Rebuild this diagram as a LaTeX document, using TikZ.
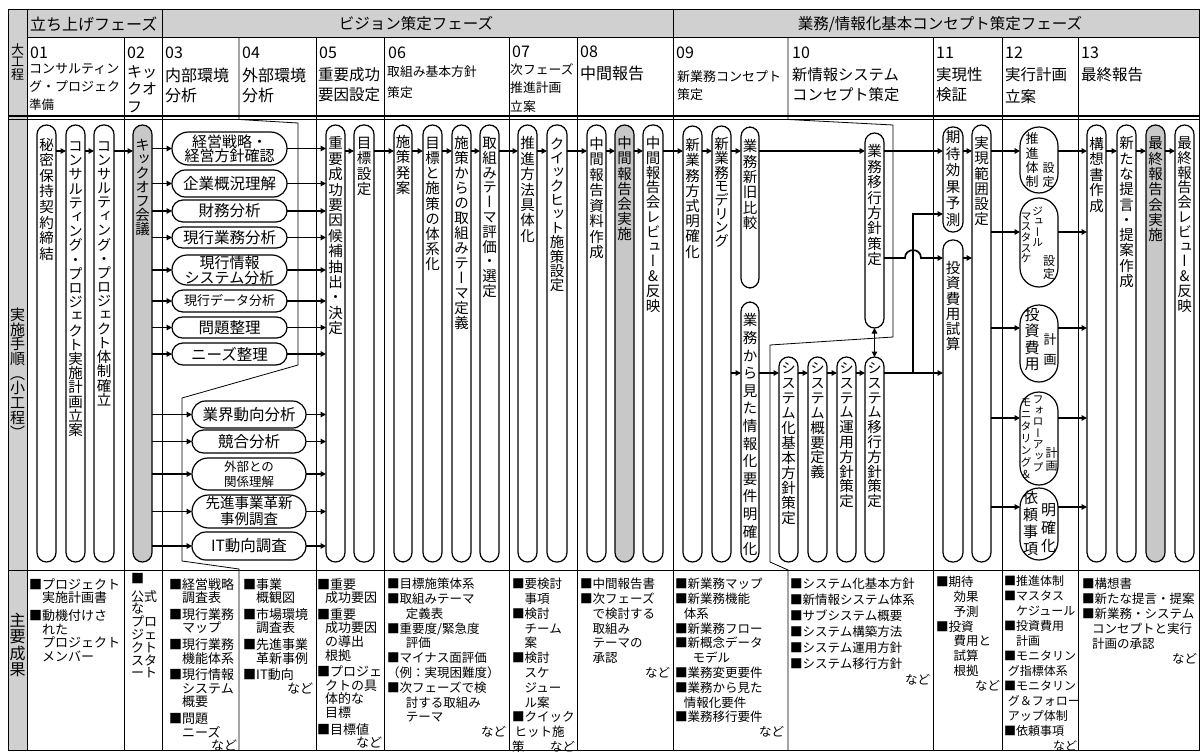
\documentclass[tikz,border=0pt]{standalone}
\usepackage{fontspec}
\setmainfont{Noto Sans CJK JP}
\newfontfamily\vjp[RawFeature=+vert]{Noto Sans CJK JP}
\usetikzlibrary{arrows.meta}
\definecolor{hdrgray}{RGB}{208,208,208}
\definecolor{pillgray}{RGB}{200,200,200}
\newdimen\vtp
\let\vtend\relax
\def\vtx#1{\ifx\vtend#1\else\vchr{#1}\expandafter\vtx\fi}
\def\vchr#1{\hbox to 1em{\hss\vrule height .86\vtp depth .14\vtp width 0pt\relax#1\hss}}
\newcommand\vtext[3]{\vbox{\offinterlineskip\vjp\fontsize{#1}{#2}\selectfont\vtp=#2\relax\vtx#3\vtend}}
\tikzset{
  gridline/.style={line width=0.8pt},
  pillbox/.style={draw, line width=1.2pt, rounded corners=#1, inner sep=0pt, outer sep=0pt, fill=white},
  conn/.style={line width=1.7pt, -{Triangle[length=5.5pt,width=5.5pt]}},
  dconn/.style={line width=1.7pt, {Triangle[length=5.5pt,width=5.5pt]}-{Triangle[length=5.5pt,width=5.5pt]}},
}
% vertical pill: name fill x1 x2 y1 y2 offset pitch text
\newcommand\VP[9]{%
  \pgfmathsetmacro\pw{#4-#3}\pgfmathsetmacro\ph{#6-#5}%
  \node[pillbox=9.5pt, fill=#2, minimum width=\pw pt, minimum height=\ph pt] (#1) at ({(#3+#4)/2},{(#5+#6)/2}) {};
  \node[inner sep=0pt, anchor=north] (#1t) at ([yshift=-#7pt]#1.north) {\vtext{14.5pt}{#8pt}{#9}};
}
% horizontal pill: name x1 x2 y1 y2 size bskip text
\newcommand\HP[8]{%
  \pgfmathsetmacro\pw{#3-#2}\pgfmathsetmacro\ph{#5-#4}\pgfmathsetmacro\pr{(#5-#4)/2}%
  \node[pillbox=\pr pt, minimum width=\pw pt, minimum height=\ph pt, align=center, font=\fontsize{#6pt}{#7pt}\selectfont] (#1) at ({(#2+#3)/2},{(#4+#5)/2}) {#8};
}
% wide pill in column 12
\newcommand\WP[3]{%
  \pgfmathsetmacro\ph{#3-#2}%
  \node[pillbox=19pt, minimum width=38pt, minimum height=\ph pt] (#1) at (1039,{(#2+#3)/2}) {};
}
\newcommand\VT[6]{\node[inner sep=0pt, anchor=north] (#1) at (#2,#3) {\vtext{#4pt}{#5pt}{#6}};}
\newcommand\HT[5]{\node[inner sep=0pt, anchor=west, font=\fontsize{#4pt}{#4pt}\selectfont] (#1) at (#2,#3) {#5};}
\newcommand\BT[7]{\node[inner sep=0pt, anchor=north west, text width=#4pt, align=left, font=\fontsize{#5pt}{#6pt}\selectfont] (#1) at (#2,#3) {#7};}
\begin{document}
\begin{tikzpicture}[x=1pt,y=-1pt]
\useasboundingbox (0,0) rectangle (1200,755);
% backgrounds
\fill[hdrgray] (8,9) rectangle (1199,37);
\fill[hdrgray] (8,9) rectangle (27,750);
% rules
\draw[gridline] (8,9) rectangle (1199,750);
\draw[gridline] (27,9) -- (27,750);
\draw[gridline] (27,37) -- (1199,37);
\draw[line width=2pt] (8,116) -- (1199,116);
\draw[line width=1.2pt] (8,119.5) -- (1199,119.5);
\draw[gridline] (8,570) -- (1199,570);
\foreach \x in {162,673} \draw[gridline] (\x,9) -- (\x,750);
\foreach \x in {124,316,384,509,577,933,1002,1078} \draw[gridline] (\x,37) -- (\x,750);
\draw[gridline] (239,37) -- (239,119.5) -- (298,123) -- (298,365) -- (182,398) -- (182,561) -- (239,569) -- (239,750);
\draw[gridline] (788,37) -- (788,119.5) -- (893,125) -- (893,337) -- (770,345) -- (770,562) -- (788,570) -- (788,750);

% left labels
\node[inner sep=0pt] (lblA) at (17.5,62) {\vtext{13pt}{12.5pt}{大工程}};
\node[inner sep=0pt] (lblB) at (17.5,374) {\vtext{15pt}{14.7pt}{実施手順（小工程）}};
\node[inner sep=0pt] (lblC) at (17.5,645) {\vtext{16pt}{16.3pt}{主要成果}};

% phases
\node[inner sep=0pt, anchor=west, font=\fontsize{16pt}{16pt}\selectfont] (ph1) at (30,24) {立ち上げフェーズ};
\node[inner sep=0pt, font=\fontsize{15.5pt}{16pt}\selectfont] (ph2) at (416,24) {ビジョン策定フェーズ};
\node[inner sep=0pt, font=\fontsize{15.5pt}{16pt}\selectfont] (ph3) at (940,24) {業務/情報化基本コンセプト策定フェーズ};

% header cells
\HT{h01a}{30}{53}{16}{01}
\HT{h01b}{29}{69}{13}{コンサルティン}
\HT{h01c}{29}{86}{13}{グ・プロジェク}
\HT{h01d}{29}{105}{12.5}{準備}
\HT{h02a}{127}{53}{16}{02}
\HT{h02b}{127}{72}{15}{キッ}
\HT{h02c}{127}{89}{15}{クオ}
\HT{h02d}{127}{107}{15}{フ}
\HT{h03a}{165}{53}{16}{03}
\HT{h03b}{165}{75}{16}{内部環境}
\HT{h03c}{165}{95}{16}{分析}
\HT{h04a}{242}{53}{16}{04}
\HT{h04b}{242}{75}{16}{外部環境}
\HT{h04c}{242}{95}{16}{分析}
\HT{h05a}{319}{53}{16}{05}
\HT{h05b}{318}{75}{15.5}{重要成功}
\HT{h05c}{318}{95}{15.5}{要因設定}
\HT{h06a}{388}{53}{16}{06}
\HT{h06b}{387}{72}{12.8}{取組み基本方針}
\HT{h06c}{387}{93}{12.8}{策定}
\HT{h07a}{512}{52}{16}{07}
\HT{h07b}{510}{70}{12.8}{次フェーズ}
\HT{h07c}{510}{88}{12.8}{推進計画}
\HT{h07d}{510}{107}{12.8}{立案}
\HT{h08a}{580}{52}{16}{08}
\HT{h08b}{580}{73}{16}{中間報告}
\HT{h09a}{676}{53}{16}{09}
\HT{h09b}{677}{77}{13}{新業務コンセプト}
\HT{h09c}{677}{95}{13}{策定}
\HT{h10a}{792}{53}{16}{10}
\HT{h10b}{792}{75}{15.3}{新情報システム}
\HT{h10c}{792}{95}{15.3}{コンセプト策定}
\HT{h11a}{936}{53}{16}{11}
\HT{h11b}{936}{75}{15.5}{実現性}
\HT{h11c}{936}{95}{15.5}{検証}
\HT{h12a}{1005}{53}{16}{12}
\HT{h12b}{1005}{75}{15.5}{実行計画}
\HT{h12c}{1005}{97}{15.5}{立案}
\HT{h13a}{1081}{53}{16}{13}
\HT{h13b}{1081}{75}{15.5}{最終報告}

% vertical pills
\VP{c01a}{white}{37}{56}{125}{562}{11.5}{15.6}{秘密保持契約締結}
\VP{c01b}{white}{66}{85}{125}{562}{14}{14.2}{コンサルティング・プロジェクト実施計画立案}
\VP{c01c}{white}{94}{114}{125}{562}{14}{14.1}{コンサルティング・プロジェクト体制確立}
\VP{c02}{pillgray}{133}{152}{125}{562}{13}{14}{キックオフ会議}
\VP{c05a}{white}{326}{345}{125}{562}{10.5}{15.4}{重要成功要因候補抽出・決定}
\VP{c05b}{white}{354}{374}{125}{562}{10.5}{15.2}{目標設定}
\VP{c06a}{white}{394}{412}{125}{562}{9}{15.4}{施策発案}
\VP{c06b}{white}{423}{442}{125}{562}{10.5}{15.1}{目標と施策の体系化}
\VP{c06c}{white}{452}{471}{125}{562}{10.5}{15}{施策からの取組みテーマ定義}
\VP{c06d}{white}{480}{499}{125}{562}{10.5}{14.8}{取組みテーマ評価・選定}
\VP{c07a}{white}{518}{537}{125}{562}{10.5}{15.4}{推進方法具体化}
\VP{c07b}{white}{547}{567}{125}{562}{12.5}{14}{クイックヒット施策設定}
\VP{c08a}{white}{587}{606}{125}{562}{10.5}{15.5}{中間報告資料作成}
\VP{c08b}{pillgray}{615}{634}{125}{562}{10.5}{15.2}{中間報告会実施}
\VP{c08c}{white}{643}{663}{125}{562}{10.5}{14.8}{中間報告会レビュー\&反映}
\VP{c09a}{white}{683}{702}{126}{562}{11.5}{15.2}{新業務方式明確化}
\VP{c09b}{white}{712}{731}{126}{562}{11.5}{13.6}{新業務モデリング}
\VP{c09c}{white}{741}{759}{127}{288}{11.5}{15.3}{業務新旧比較}
\VP{c09d}{white}{741}{759}{302}{562}{8.5}{17.6}{業務から見た情報化要件明確化}
\VP{c10m}{white}{865}{884}{133}{328}{10.5}{15.4}{業務移行方針策定}
\VP{c10a}{white}{779}{798}{357}{562}{3.5}{15}{システム化基本方針策定}
\VP{c10b}{white}{808}{827}{357}{562}{3.5}{14.9}{システム概要定義}
\VP{c10c}{white}{837}{856}{357}{562}{3.5}{14.8}{システム運用方針策定}
\VP{c10d}{white}{865}{884}{357}{562}{3.5}{14.8}{システム移行方針策定}
\VP{c11a}{white}{943}{963}{127}{232}{1.5}{16.5}{期待効果予測}
\VP{c11b}{white}{943}{963}{240}{562}{20.5}{15.2}{投資費用試算}
\VP{c11c}{white}{972}{991}{125}{562}{10.5}{15.2}{実現範囲設定}
\VP{c13a}{white}{1087}{1106}{125}{562}{10.5}{15.6}{構想書作成}
\VP{c13b}{white}{1117}{1136}{125}{562}{10.5}{15.3}{新たな提言・提案作成}
\VP{c13c}{pillgray}{1146}{1165}{125}{562}{10.5}{15.3}{最終報告会実施}
\VP{c13d}{white}{1175}{1194}{125}{562}{10.5}{14.8}{最終報告会レビュー\&反映}

% horizontal pills
\HP{i1}{172}{287}{132}{165}{15}{14}{経営戦略・\\経営方針確認}
\HP{i2}{172}{287}{170}{197}{15.5}{16}{企業概況理解}
\HP{i3}{172}{287}{200}{222}{15.5}{16}{財務分析}
\HP{i4}{172}{287}{227}{248}{15.5}{16}{現行業務分析}
\HP{i5}{172}{287}{255}{285}{15}{15}{現行情報\\システム分析}
\HP{i6}{172}{287}{290}{312}{13}{14}{現行データ分析}
\HP{i7}{172}{287}{317}{338}{15.5}{16}{問題整理}
\HP{i8}{172}{287}{343}{365}{15.5}{16}{ニーズ整理}
\HP{e1}{192}{306}{401}{428}{15.5}{16}{業界動向分析}
\HP{e2}{192}{306}{430}{453}{15.5}{16}{競合分析}
\HP{e3}{192}{306}{458}{490}{12.5}{15}{外部との\\関係理解}
\HP{e4}{192}{306}{495}{528}{14.5}{16}{先進事業革新\\事例調査}
\HP{e5}{192}{306}{532}{560}{15.5}{16}{IT動向調査}

% column 12 wide pills
\WP{c12a}{127}{193}
\WP{c12b}{198}{287}
\WP{c12c}{305}{382}
\WP{c12d}{392}{485}
\WP{c12e}{488}{560}
\VT{c12a1}{1032}{131.5}{13}{14.2}{推進体制}
\VT{c12a2}{1048.5}{160.5}{12}{14}{設定}
\VT{c12b1}{1026}{211}{11}{10.6}{マスタスケ}
\VT{c12b2}{1037.5}{206}{11}{10.5}{ジュール}
\VT{c12b3}{1049}{253.5}{12}{13.5}{設定}
\VT{c12c1}{1032}{306.5}{15}{16.2}{投資費用}
\VT{c12c2}{1050}{327}{13}{20}{計画}
\VT{c12d1}{1026}{396}{11}{12}{モニタリング\&}
\VT{c12d2}{1038}{393}{11}{11.4}{フォローアップ}
\VT{c12d3}{1051.5}{447}{12}{12.5}{計画}
\VT{c12e1}{1030.5}{488.5}{15}{17}{依頼事項}
\VT{c12e2}{1048.5}{500.5}{15}{17.7}{明確化}

% connectors
\coordinate (L151) at (0,151);
\coordinate (L214) at (0,214);
\coordinate (L258) at (0,258);
\coordinate (L373) at (0,373);
\coordinate (y232) at (0,232);
\coordinate (y328) at (0,328);
\coordinate (y418) at (0,418);
\coordinate (y507) at (0,507);
\foreach \a/\b in {c01a/c01b,c01b/c01c,c01c/c02,c05a/c05b,c05b/c06a,c06a/c06b,c06b/c06c,c06c/c06d,c06d/c07a,c07a/c07b,c07b/c08a,c08a/c08b,c08b/c08c,c08c/c09a,c09a/c09b,c09b/c09c,c09c/c10m,c10m/c11a,c11a/c11c,c11c/c12a,c12a/c13a,c13a/c13b,c13b/c13c,c13c/c13d}
  \draw[conn] (\a.east |- L151) -- (\b.west |- L151);
\foreach \p in {i1,i2,i3,i4,i5,i6,i7,i8,e1,e2,e3,e4,e5} {
  \draw[conn] (c02.east |- \p.west) -- (\p.west);
  \draw[conn] (\p.east) -- (c05a.west |- \p.east);
}
\foreach \a/\b in {c09b/c09d,c09d/c10a,c10a/c10b,c10b/c10c,c10c/c10d,c10d/c11b}
  \draw[conn] (\a.east |- L373) -- (\b.west |- L373);
\coordinate (br) at (913,373);
\draw[conn] (br) |- (c11a.west |- L214);
\draw[conn] (c10m.east |- L258) -- (905,258) .. controls (905,247.5) and (921,247.5) .. (921,258) -- (c11b.west |- L258);
\draw[dconn] (c10m.south) -- (c10d.north);
\draw[conn] (c11b.east |- L258) -- (c11c.west |- L258);
\foreach \p/\yy in {c12b/232,c12c/328,c12d/418,c12e/507} {
  \draw[conn] (c11c.east |- y\yy) -- (\p.west |- y\yy);
  \draw[conn] (\p.east |- y\yy) -- (c13a.west |- y\yy);
}

% bottom row texts
\BT{b01}{29}{578}{93}{13}{13.6}{■プロジェクト\\　実施計画書\\[4.5pt]■動機付けさ\\　れた\\　プロジェクト\\　メンバー}
\BT{b02}{131}{573}{30}{13}{12.8}{■\\[5pt]公式\\な\\プロ\\ジェ\\クト\\スタ\\ート}
\BT{b03}{169}{578}{68}{13}{13.6}{■経営戦略\\　調査表\\[3pt]■現行業務\\　マップ\\[3pt]■現行業務\\　機能体系\\[3pt]■現行情報\\　システム\\　概要\\[3pt]■問題\\　ニーズ\\\hfill など}
\BT{b04}{243}{578}{70}{13}{13.6}{■事業\\　概観図\\[3pt]■市場環境\\　調査表\\[3pt]■先進事業\\　革新事例\\[3pt]■IT動向\\\hfill など}
\BT{b05}{317}{578}{65}{13}{13.6}{■重要\\\hspace*{.6em}成功要因\\[3pt]■重要\\\hspace*{.6em}成功要因\\\hspace*{.6em}の導出\\\hspace*{.6em}根拠\\[3pt]■プロジェ\\\hspace*{.6em}クトの具\\\hspace*{.6em}体的な\\\hspace*{.6em}目標\\[3pt]■目標値\\\hfill など}
\BT{b06}{387}{578}{119}{12.5}{14.8}{■目標施策体系\\■取組みテーマ\\\hspace*{1.5em}定義表\\■重要度/緊急度\\\hspace*{1.5em}評価\\■マイナス面評価\\（例：実現困難度）\\■次フェーズで検\\\hspace*{1.5em}討する取組み\\\hspace*{1.5em}テーマ\\\hfill など}
\BT{b07}{512}{578}{63}{12.5}{14.8}{■要検討\\　事項\\■検討\\　チーム\\　案\\■検討\\　スケ\\　ジュー\\　ル案\\■クイック\\\hspace*{.2em}ヒット施\\策\hfill など}
\BT{b08}{580}{578}{90}{12.5}{14.8}{■中間報告書\\■次フェーズ\\　で検討する\\　取組み\\　テーマの\\　承認\\\hfill など}
\BT{b09}{675}{578}{109}{12.5}{14.8}{■新業務マップ\\■新業務機能\\\hspace*{.7em}体系\\■新業務フロー\\■新概念データ\\\hspace*{1.4em}モデル\\■業務変更要件\\■業務から見た\\\hspace*{.7em}情報化要件\\■業務移行要件\\\hfill など}
\BT{b10}{790}{578}{140}{12.5}{16}{■システム化基本方針\\■新情報システム体系\\■サブシステム概要\\■システム構築方法\\■システム運用方針\\■システム移行方針\\\hfill など}
\BT{b11}{936}{576}{64}{12.5}{14.8}{■期待\\\hspace*{1.4em}効果\\\hspace*{1.4em}予測\\■投資\\\hspace*{1.4em}費用と\\\hspace*{1.4em}試算\\\hspace*{1.4em}根拠\\\hfill など}
\BT{b12}{1004}{575}{73}{12}{15}{■推進体制\\■マスタス\\　ケジュール\\■投資費用\\　計画\\■モニタリン\\\hspace*{.3em}グ指標体系\\■モニタリン\\\hspace*{.3em}グ＆フォロー\\\hspace*{.3em}アップ体制\\■依頼事項\\\hfill など}
\BT{b13}{1082}{578}{115}{12.5}{15}{■構想書\\■新たな提言・提案\\■新業務・システム\\\hspace*{.8em}コンセプトと実行\\\hspace*{.8em}計画の承認\\\hfill など}
\end{tikzpicture}
\end{document}
